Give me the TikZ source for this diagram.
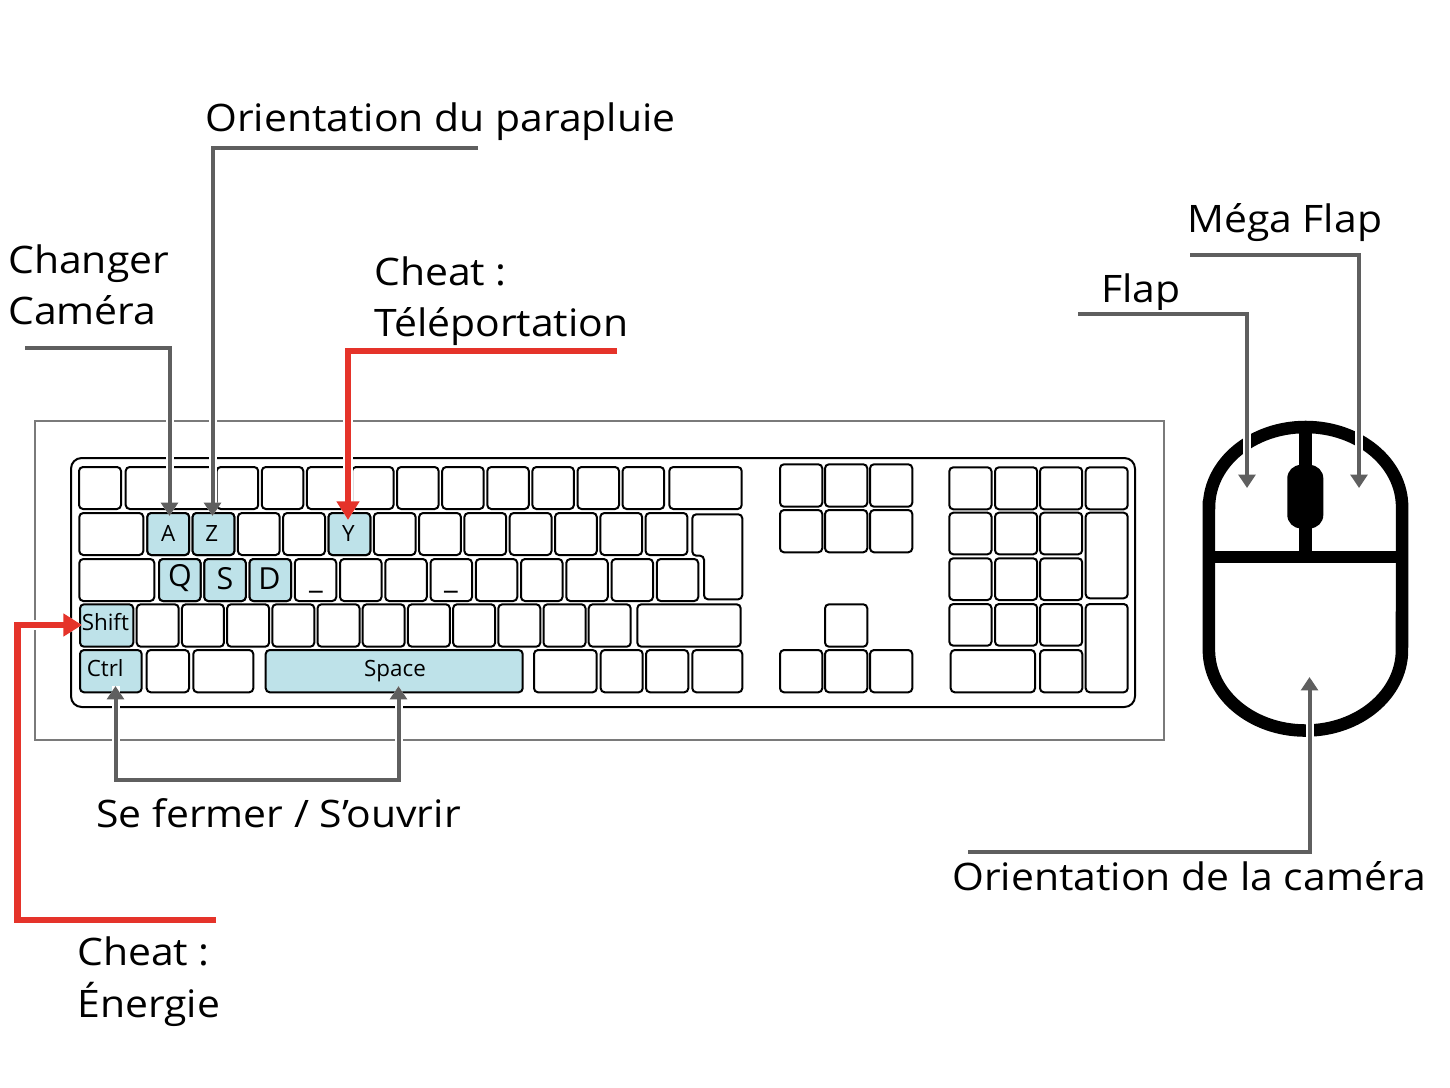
\documentclass[tikz,border=0pt]{standalone}
\usepackage{fontspec}
\setmainfont{Open Sans}
\newfontfamily\lblfont{Open Sans}[FakeStretch=1.08]
\usetikzlibrary{arrows.meta}
\definecolor{arrgray}{HTML}{5F5F5F}
\definecolor{arrred}{HTML}{E5332A}
\definecolor{keyblue}{HTML}{BEE2E9}
\definecolor{framegray}{HTML}{7A7A7A}
\newcommand\kbkey[4]{\draw[keyst] (#1,#2) rectangle (#3,#4);}
\newcommand\kbkeyh[4]{\draw[keyst,fill=keyblue] (#1,#2) rectangle (#3,#4);}
\begin{document}
\begin{tikzpicture}[x=0.75pt,y=-0.75pt,
  keyst/.style={draw=black,line width=1.5pt,rounded corners=3pt,fill=white},
  lbl/.style={anchor=base west,inner sep=0pt,font=\lblfont\fontsize{28.4}{34}\selectfont},
  klbl/.style={inner sep=0pt,font=\fontsize{16.8}{20}\selectfont},
  kbig/.style={inner sep=0pt,font=\fontsize{22.8}{26}\selectfont},
  gtip/.style={-{Triangle[length=10pt,width=12.5pt]}},
  garrow/.style={draw=arrgray,line width=3pt,gtip,
    preaction={draw=white,line width=6pt,gtip}},
  rtip/.style={-{Triangle[length=14pt,width=16.5pt]}},
  rarrow/.style={draw=arrred,line width=4.9pt,rtip,
    preaction={draw=white,line width=8pt,rtip}},
  mouse/.style={draw=black,line width=9.4pt}
]
\useasboundingbox (0,0) rectangle (1450,1088);

% frame and keyboard body
\draw[framegray,line width=1.1pt] (35,421) rectangle (1164,740);
\draw[black,line width=1.5pt,rounded corners=8pt] (71,458) rectangle (1135,707);

% row 1
\kbkey{79}{467}{121}{509}
\kbkey{125.7}{467}{214}{509}
\foreach \i in {0,...,9}{\pgfmathsetmacro\xa{216.7+45.1*\i}\pgfmathsetmacro\xb{\xa+41.5}\kbkey{\xa}{467}{\xb}{509}}
\kbkey{669.3}{467}{741.7}{509}
% row 2
\kbkey{79.3}{513}{143.3}{555}
\foreach \i in {0,...,11}{\pgfmathsetmacro\xa{147.3+45.3*\i}\pgfmathsetmacro\xb{\xa+41.8}\kbkey{\xa}{513}{\xb}{555}}
\kbkeyh{147.3}{513}{189.1}{555}
\kbkeyh{192.6}{513}{234.4}{555}
\kbkeyh{328.5}{513}{370.3}{555}
\draw[keyst] (692.3,514.3) -- (742.3,514.3) -- (742.3,599.3) -- (704,599.3) -- (704,555.7) -- (692.3,555.7) -- cycle;
% row 3
\kbkey{79.3}{559}{154.3}{601}
\foreach \i in {0,...,11}{\pgfmathsetmacro\xa{159+45.25*\i}\pgfmathsetmacro\xb{\xa+41.5}\kbkey{\xa}{559}{\xb}{601}}
\kbkeyh{159}{559}{200.5}{601}
\kbkeyh{204.25}{559}{245.75}{601}
\kbkeyh{249.5}{559}{291}{601}
% row 4
\kbkeyh{80}{604.3}{133.3}{646.7}
\foreach \i in {0,...,10}{\pgfmathsetmacro\xa{136.7+45.2*\i}\pgfmathsetmacro\xb{\xa+42}\kbkey{\xa}{604.3}{\xb}{646.7}}
\kbkey{637.3}{604.3}{740.7}{646.7}
% row 5
\kbkeyh{80}{650}{141.7}{692.3}
\kbkey{146.7}{650}{189}{692.3}
\kbkey{193.3}{650}{253.3}{692.3}
\kbkeyh{265.7}{650}{522.7}{692.3}
\kbkey{534}{650}{596.7}{692.3}
\kbkey{600.7}{650}{642.7}{692.3}
\kbkey{646}{650}{688.3}{692.3}
\kbkey{692.3}{650}{742.3}{692.3}

% navigation cluster
\foreach \xa in {780,825,870}{
  \kbkey{\xa}{464.3}{\xa+42.3}{506.7}
  \kbkey{\xa}{510}{\xa+42.3}{552.3}
  \kbkey{\xa}{650}{\xa+42.3}{692.3}}
\kbkey{825}{604.3}{867.3}{646.7}

% numeric pad
\foreach \xa in {949.3,995,1040}{
  \kbkey{\xa}{467.3}{\xa+42.2}{509.3}
  \kbkey{\xa}{512.7}{\xa+42.2}{554.3}
  \kbkey{\xa}{558.3}{\xa+42.2}{600}
  \kbkey{\xa}{604}{\xa+42.2}{645.7}}
\kbkey{1085.7}{467.3}{1127.7}{509.3}
\kbkey{1085.7}{512.7}{1127.7}{598.3}
\kbkey{1085.7}{604}{1127.7}{692.3}
\kbkey{950.7}{650}{1035}{692.3}
\kbkey{1040}{650}{1082.3}{692.3}

% key labels
\node[klbl] (kA) at (168.3,533.3) {A};
\node[klbl] (kZ) at (211.7,533.3) {Z};
\node[klbl] (kY) at (348.3,533.3) {Y};
\node[kbig] (kQ) at (180,578.5) {Q};
\node[kbig] (kS) at (225,578.5) {S};
\node[kbig] (kD) at (269.5,578.5) {D};
\node[kbig,anchor=base] (ku1) at (316,588) {\_};
\node[kbig,anchor=base] (ku2) at (451,588) {\_};
\node[klbl,anchor=base west] (kShift) at (81.5,630.7) {Shift};
\node[klbl,anchor=base west] (kCtrl) at (86.5,676.7) {Ctrl};
\node[klbl,anchor=base] (kSpace) at (395,676.7) {Space};

% mouse
\draw[mouse] (1208.9,507) -- (1208.9,650)
  arc[start angle=180,end angle=360,x radius=72.4pt,y radius=60.4pt]
  -- (1402.1,507)
  arc[start angle=0,end angle=180,x radius=72.4pt,y radius=60pt] -- cycle;
\draw[mouse] (1208.9,557) -- (1402.1,557);
\draw[black,line width=9.2pt] (1305.5,427) -- (1305.5,557);
\fill[black,rounded corners=10pt] (1287.3,465) rectangle (1323.3,528.3);

% labels
\node[lbl] (tPara) at (205,132) {Orientation du parapluie};
\node[lbl] (tChg1) at (8,273) {Changer};
\node[lbl] (tChg2) at (8,324) {Caméra};
\node[lbl] (tTel1) at (374,285) {Cheat :};
\node[lbl] (tTel2) at (374,336) {Téléportation};
\node[lbl] (tMega) at (1187,232) {Méga Flap};
\node[lbl] (tFlap) at (1101,302) {Flap};
\node[lbl] (tSef) at (96,827) {Se fermer / S’ouvrir};
\node[lbl] (tCam) at (952,890) {Orientation de la caméra};
\node[lbl] (tEn1) at (77,965) {Cheat :};
\node[lbl] (tEn2) at (77,1017) {Énergie};

% connector coordinates
\coordinate (cChg) at (25,348);
\coordinate (cA) at (169.5,516);
\coordinate (cPara) at (478,148);
\coordinate (cZ) at (212.5,516);
\coordinate (cTel) at (617,351);
\coordinate (cY) at (348,520);
\coordinate (cEn) at (216,920);
\coordinate (cEnC) at (17.5,625);
\coordinate (cShift) at (82,625);
\coordinate (cCtrl) at (115.5,686);
\coordinate (cSefL) at (115.5,780);
\coordinate (cSefR) at (398.5,780);
\coordinate (cSpace) at (398.5,686);
\coordinate (cFlap) at (1078,314);
\coordinate (cLeftB) at (1247,488);
\coordinate (cMega) at (1190,255);
\coordinate (cRightB) at (1359,488);
\coordinate (cCam) at (968,851.5);
\coordinate (cBody) at (1309.5,677);

% connectors
\draw[garrow] (cChg) -| (cA);
\draw[garrow] (cPara) -| (cZ);
\draw[rarrow] (cTel) -| (cY);
\draw[rarrow] (cEn) -| (cEnC) -- (cShift);
\draw[garrow,{Triangle[length=10pt,width=12.5pt]}-{Triangle[length=10pt,width=12.5pt]},
  preaction={draw=white,line width=6pt,{Triangle[length=10pt,width=12.5pt]}-{Triangle[length=10pt,width=12.5pt]}}]
  (cCtrl) -- (cSefL) -- (cSefR) -- (cSpace);
\draw[garrow] (cFlap) -| (cLeftB);
\draw[garrow] (cMega) -| (cRightB);
\draw[garrow] (cCam) -| (cBody);
\end{tikzpicture}
\end{document}
